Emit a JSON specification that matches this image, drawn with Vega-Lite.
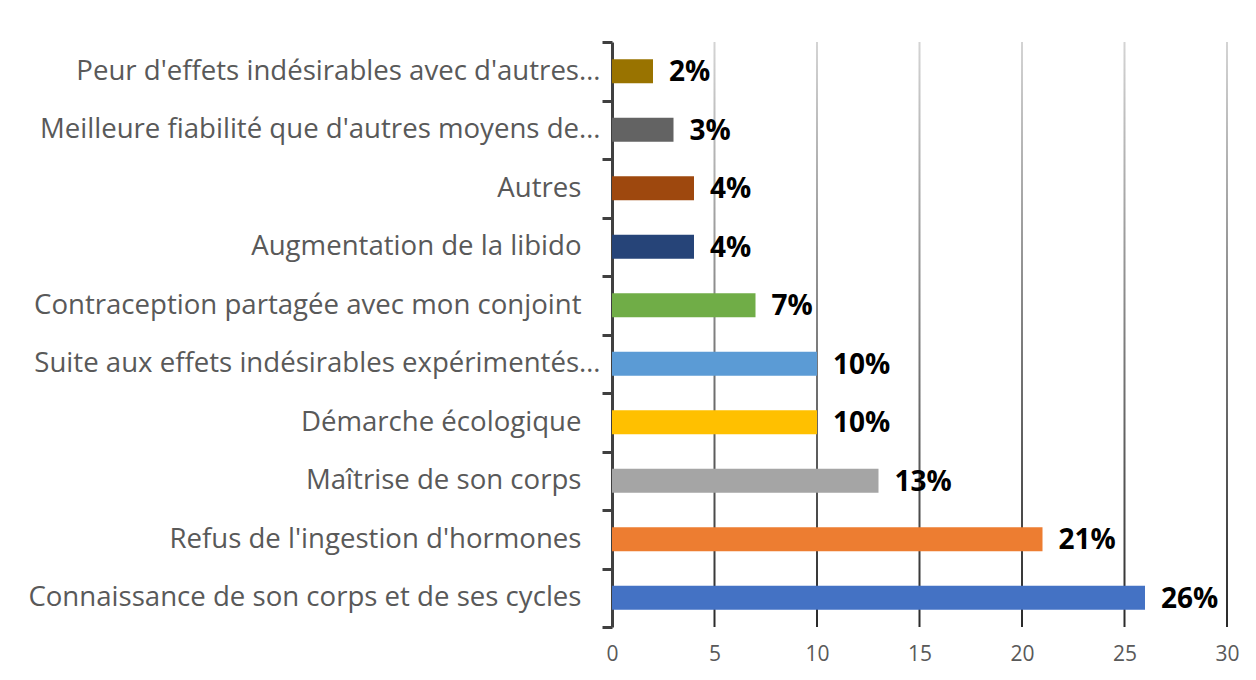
{
  "$schema": "https://vega.github.io/schema/vega-lite/v6.json",
  "width": 615,
  "height": 585,
  "autosize": "none",
  "padding": {"left": 612, "top": 42, "right": 29, "bottom": 53},
  "background": "white",
  "config": {"view": {"stroke": null}, "font": "Open Sans"},
  "datasets": {
    "bars": [
      {"cat": "Peur d'effets indésirables avec d'autres…", "value": 2, "label": "2%"},
      {"cat": "Meilleure fiabilité que d'autres moyens de…", "value": 3, "label": "3%"},
      {"cat": "Autres", "value": 4, "label": "4%"},
      {"cat": "Augmentation de la libido", "value": 4, "label": "4%"},
      {"cat": "Contraception partagée avec mon conjoint", "value": 7, "label": "7%"},
      {"cat": "Suite aux effets indésirables expérimentés…", "value": 10, "label": "10%"},
      {"cat": "Démarche écologique", "value": 10, "label": "10%"},
      {"cat": "Maîtrise de son corps", "value": 13, "label": "13%"},
      {"cat": "Refus de l'ingestion d'hormones", "value": 21, "label": "21%"},
      {"cat": "Connaissance de son corps et de ses cycles", "value": 26, "label": "26%"}
    ],
    "grid": [{"g": 5}, {"g": 10}, {"g": 15}, {"g": 20}, {"g": 25}, {"g": 30}]
  },
  "layer": [
    {
      "data": {"name": "grid"},
      "mark": {
        "type": "tick",
        "orient": "vertical",
        "size": 585,
        "thickness": 2,
        "color": {
          "gradient": "linear",
          "x1": 0, "y1": 0, "x2": 0, "y2": 1,
          "stops": [
            {"offset": 0, "color": "#d4d4d4"},
            {"offset": 1, "color": "#2a2a2a"}
          ]
        },
        "opacity": 1
      },
      "encoding": {
        "x": {
          "field": "g",
          "type": "quantitative",
          "scale": {"domain": [0, 30], "nice": false, "zero": true},
          "axis": {
            "values": [0, 5, 10, 15, 20, 25, 30],
            "title": null,
            "domain": false,
            "ticks": false,
            "grid": false,
            "labelFlush": false,
            "labelColor": "#595959",
            "labelFontSize": 21,
            "labelPadding": 16,
            "labelFont": "Open Sans"
          }
        }
      }
    },
    {
      "data": {"name": "bars"},
      "mark": {"type": "bar", "height": {"band": 0.41}},
      "encoding": {
        "y": {
          "field": "cat",
          "type": "nominal",
          "sort": null,
          "scale": {"paddingInner": 0, "paddingOuter": 0},
          "axis": {
            "title": null,
            "tickBand": "extent",
            "domainColor": "#404040",
            "domainWidth": 3,
            "tickColor": "#404040",
            "tickWidth": 3,
            "tickSize": 10,
            "labelColor": "#595959",
            "labelFontSize": 27.6,
            "labelFont": "Open Sans",
            "labelPadding": {"condition": {"test": "indexof(datum.label, '…') >= 0", "value": 2}, "value": 21},
            "labelLimit": 900
          }
        },
        "x": {"field": "value", "type": "quantitative", "title": null},
        "color": {
          "field": "cat",
          "type": "nominal",
          "legend": null,
          "scale": {
            "domain": [
              "Peur d'effets indésirables avec d'autres…",
              "Meilleure fiabilité que d'autres moyens de…",
              "Autres",
              "Augmentation de la libido",
              "Contraception partagée avec mon conjoint",
              "Suite aux effets indésirables expérimentés…",
              "Démarche écologique",
              "Maîtrise de son corps",
              "Refus de l'ingestion d'hormones",
              "Connaissance de son corps et de ses cycles"
            ],
            "range": ["#997300", "#636363", "#9E480E", "#264478", "#70AD47", "#5B9BD5", "#FFC000", "#A5A5A5", "#ED7D31", "#4472C4"]
          }
        }
      }
    },
    {
      "data": {"name": "bars"},
      "mark": {"type": "text", "align": "left", "baseline": "middle", "dx": 16, "dy": 2, "fontSize": 28, "fontWeight": "bold", "color": "#000000", "font": "Open Sans"},
      "encoding": {
        "y": {"field": "cat", "type": "nominal", "sort": null},
        "x": {"field": "value", "type": "quantitative", "title": null},
        "text": {"field": "label", "type": "nominal"}
      }
    }
  ]
}
